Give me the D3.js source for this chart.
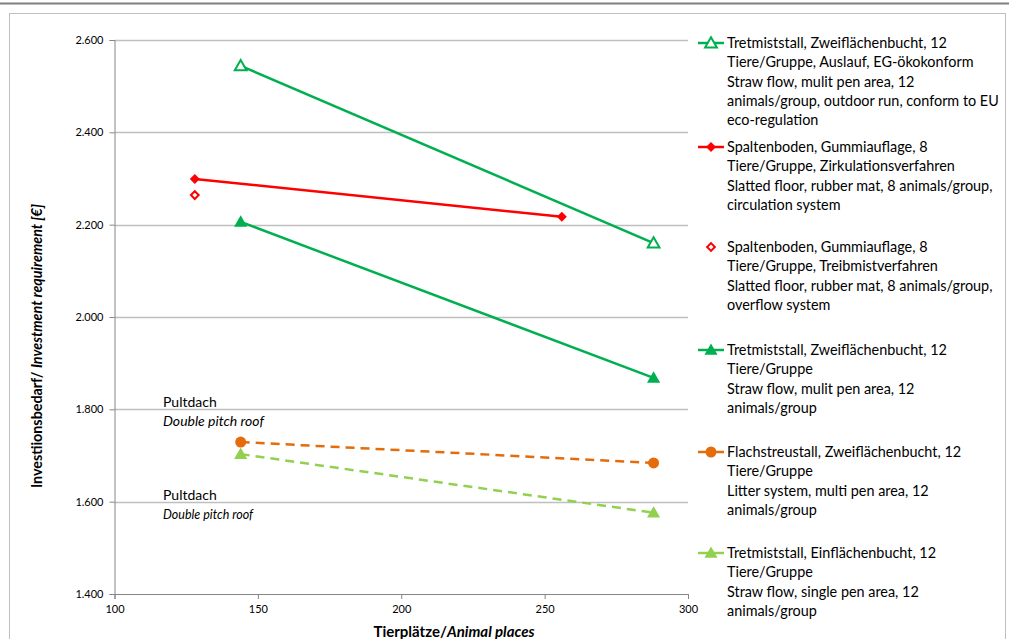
<!DOCTYPE html>
<html><head><meta charset="utf-8">
<script src="https://cdn.jsdelivr.net/npm/d3@7"></script>
<style>
html,body{margin:0;padding:0;background:#fff;}
svg{display:block;font-family:Lato,"Open Sans",sans-serif;}
</style></head>
<body>
<svg id="c" width="1009" height="639"></svg>
<script>
// ---- data ----
const xTicks = [100,150,200,250,300];
const yTicks = [1400,1600,1800,2000,2200,2400,2600];
const strawOutdoorX = [144,288], strawOutdoorY = [2544,2160];
const slatCircX = [128,256], slatCircY = [2299,2217];
const slatOverflowX = [128], slatOverflowY = [2264];
const strawMultiX = [144,288], strawMultiY = [2206,1868];
const litterX = [144,288], litterY = [1729,1684];
const strawSingleX = [144,288], strawSingleY = [1703,1576];
const legendTexts = [
 ["Tretmiststall, Zweiflächenbucht, 12","Tiere/Gruppe, Auslauf, EG-ökokonform","Straw flow, mulit pen area, 12","animals/group, outdoor run, conform to EU","eco-regulation"],
 ["Spaltenboden, Gummiauflage, 8","Tiere/Gruppe, Zirkulationsverfahren","Slatted floor, rubber mat, 8 animals/group,","circulation system"],
 ["Spaltenboden, Gummiauflage, 8","Tiere/Gruppe, Treibmistverfahren","Slatted floor, rubber mat, 8 animals/group,","overflow system"],
 ["Tretmiststall, Zweiflächenbucht, 12","Tiere/Gruppe","Straw flow, mulit pen area, 12","animals/group"],
 ["Flachstreustall, Zweiflächenbucht, 12","Tiere/Gruppe","Litter system, multi pen area, 12","animals/group"],
 ["Tretmiststall, Einflächenbucht, 12","Tiere/Gruppe","Straw flow, single pen area, 12","animals/group"]
];
const annotations = [
 {de:"Pultdach", en:"Double pitch roof", y:1800},
 {de:"Pultdach", en:"Double pitch roof", y:1600}
];

// ---- layout ----
const svg = d3.select("#c");
const L=114.5, R=688, T=40, B=594;
const x = d3.scaleLinear().domain([100,300]).range([L,R]);
const y = d3.scaleLinear().domain([1400,2600]).range([B,T]);

// top rule & frame
svg.append("line").attr("x1",0).attr("x2",1009).attr("y1",3.5).attr("y2",3.5).attr("stroke","#7f7f7f").attr("stroke-width",2);
svg.append("rect").attr("x",9.5).attr("y",13.5).attr("width",996).attr("height",640).attr("fill","none").attr("stroke","#bfbfbf");

// gridlines
svg.append("g").selectAll("line").data(yTicks.filter(d=>d>1400)).join("line")
 .attr("x1",L).attr("x2",R).attr("y1",d=>Math.round(y(d))+0.5).attr("y2",d=>Math.round(y(d))+0.5)
 .attr("stroke","#bfbfbf").attr("stroke-width",1.3);

// axes
const yAxis = d3.axisLeft(y).tickValues(yTicks).tickSize(5).tickPadding(6)
 .tickFormat(d=>d3.format(",")(d).replace(",","."));
const gy = svg.append("g").attr("transform",`translate(${L},0)`).call(yAxis);
const xAxis = d3.axisBottom(x).tickValues(xTicks).tickSize(5).tickPadding(4);
const gx = svg.append("g").attr("transform",`translate(0,${B})`).call(xAxis);
[gx,gy].forEach(g=>{
 g.select(".domain").attr("stroke","#868686");
 g.selectAll(".tick line").attr("stroke","#868686");
 g.selectAll("text").attr("fill","#000").style("font-size","11px").style("font-family","Lato,'Open Sans',sans-serif");
});
gx.selectAll(".tick text").attr("dy","0.9em");

// axis titles
const yt = svg.append("text").attr("transform",`translate(42,346) rotate(-90)`)
 .attr("text-anchor","middle").style("font-size","14.3px").style("font-weight","bold");
yt.append("tspan").text("Investiionsbedarf/ ");
yt.append("tspan").style("font-style","italic").text("Investment requirement [€]");
const xt = svg.append("text").attr("x",454).attr("y",637).attr("text-anchor","middle")
 .style("font-size","15px").style("font-weight","bold");
xt.append("tspan").text("Tierplätze/");
xt.append("tspan").style("font-style","italic").text("Animal places");

// annotations
annotations.forEach((a,i)=>{
 svg.append("text").attr("x",163).attr("y",y(a.y)-2).style("font-size","14px").text(a.de);
 svg.append("text").attr("x",163).attr("y",y(a.y)+17).style("font-size",i===0?"14px":"12.5px").style("font-style","italic").text(a.en);
});

// series
const series = [
 {xs:strawOutdoorX, ys:strawOutdoorY, color:"#00b050", dash:null, marker:"triOpen"},
 {xs:slatCircX, ys:slatCircY, color:"#ff0000", dash:null, marker:"diamond"},
 {xs:slatOverflowX, ys:slatOverflowY, color:"#ff0000", dash:null, marker:"diamondOpen"},
 {xs:strawMultiX, ys:strawMultiY, color:"#00b050", dash:null, marker:"tri"},
 {xs:litterX, ys:litterY, color:"#e46c0a", dash:"9,6", marker:"circle"},
 {xs:strawSingleX, ys:strawSingleY, color:"#92d050", dash:"9,6", marker:"tri"}
];
function drawMarker(g, type, cx, cy, color){
 if(type==="triOpen"){
   g.append("path").attr("d",d3.symbol(d3.symbolTriangle,60)()).attr("transform",`translate(${cx},${cy+1})`)
    .attr("fill","#fff").attr("stroke",color).attr("stroke-width",2);
 } else if(type==="tri"){
   g.append("path").attr("d",d3.symbol(d3.symbolTriangle,75)()).attr("transform",`translate(${cx},${cy+1})`).attr("fill",color);
 } else if(type==="diamond"){
   g.append("path").attr("d",d3.symbol(d3.symbolSquare,50)()).attr("transform",`translate(${cx},${cy}) rotate(45)`).attr("fill",color);
 } else if(type==="diamondOpen"){
   g.append("path").attr("d",d3.symbol(d3.symbolSquare,30)()).attr("transform",`translate(${cx},${cy}) rotate(45)`)
    .attr("fill","#fff").attr("stroke",color).attr("stroke-width",2);
 } else if(type==="circle"){
   g.append("circle").attr("cx",cx).attr("cy",cy).attr("r",5.5).attr("fill",color);
 }
}
const line = d3.line().x(d=>x(d[0])).y(d=>y(d[1]));
series.forEach(s=>{
 const pts = s.xs.map((v,i)=>[v,s.ys[i]]);
 const g = svg.append("g");
 if(pts.length>1){
   g.append("path").datum(pts).attr("d",line).attr("fill","none").attr("stroke",s.color)
    .attr("stroke-width",2.5).attr("stroke-dasharray",s.dash);
 }
 pts.forEach(p=>drawMarker(g,s.marker,x(p[0]),y(p[1]),s.color));
});

// legend
const legTop = [48,152,252,355,457,558];
const lh = 19.3;
series.forEach((s,i)=>{
 const g = svg.append("g");
 const cy = legTop[i]-5;
 if(s.marker!=="diamondOpen"){
   g.append("line").attr("x1",698).attr("x2",724).attr("y1",cy).attr("y2",cy).attr("stroke",s.color).attr("stroke-width",2.5);
 }
 drawMarker(g,s.marker,711,cy,s.color);
 legendTexts[i].forEach((t,j)=>{
   g.append("text").attr("x",727).attr("y",legTop[i]+j*lh).style("font-size","14.4px").text(t);
 });
});
</script>
</body></html>
